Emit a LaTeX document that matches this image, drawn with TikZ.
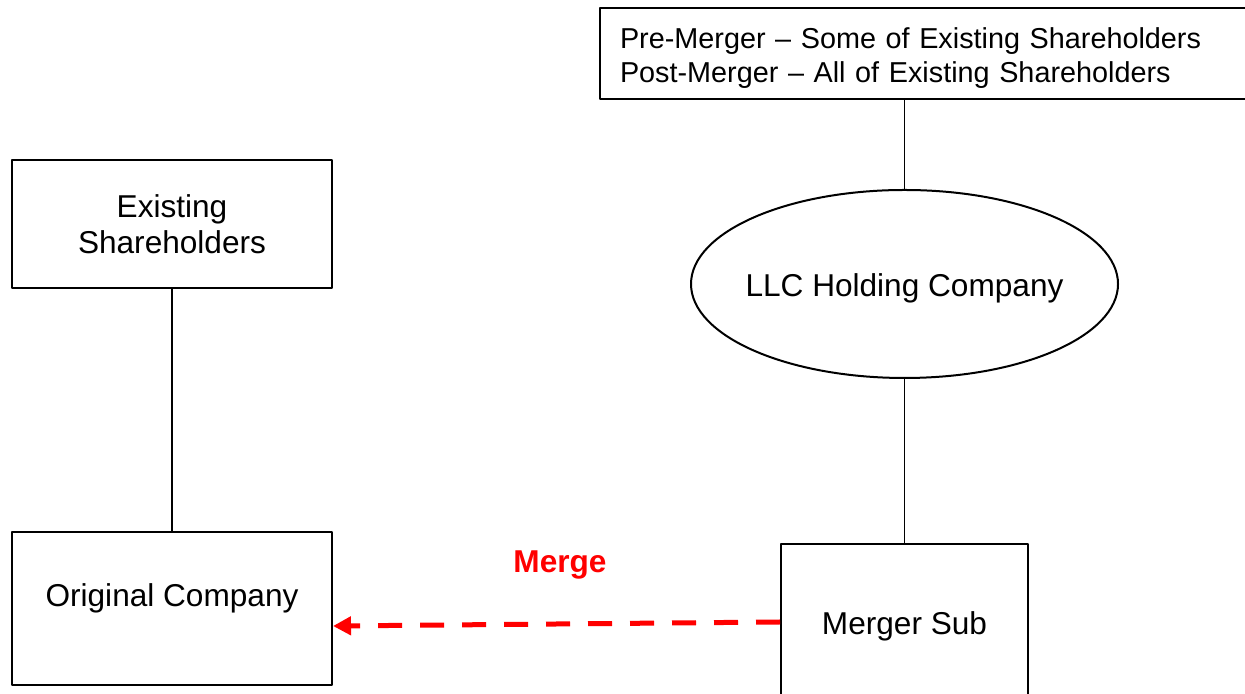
\documentclass[tikz,border=0pt]{standalone}
\usepackage{fontspec}
\setmainfont{Liberation Sans}
\usetikzlibrary{arrows.meta,shapes.geometric}
\definecolor{ffoooo}{rgb}{1,0,0}

\begin{document}
\begin{tikzpicture}[line cap=round,line join=round,x=0.5pt,y=0.5pt,
  box/.style={draw,line width=1pt,inner sep=0pt,font=\fontsize{15.8}{18}\selectfont},
  low/.style={text height=16pt,text depth=3pt},
  link/.style={line width=0.75pt}]
\useasboundingbox (0,0) rectangle (1245,694);
% left side
\node[box,minimum width=160pt,minimum height=64pt,align=center] (share) at (172,470) {Existing\\Shareholders};
\node[box,minimum width=160pt,minimum height=76.5pt,text height=11pt,text depth=12.5pt] (orig) at (172,85.5) {Original Company};
% right side
\node[box,minimum height=45.5pt,text width=320pt,inner xsep=10pt,align=left,font=\fontsize{14.4}{17}\selectfont] (owners) at (940,640.5) {\rule{0pt}{15.5pt}Pre-Merger – Some of Existing Shareholders\\Post-Merger – All of Existing Shareholders};
\node[box,low,ellipse,inner xsep=-4pt,minimum width=213.5pt,minimum height=94pt] (llc) at (904.5,410) {LLC Holding Company};
\node[box,low,minimum width=123.5pt,minimum height=78pt] (msub) at (904.5,72) {Merger Sub};
\draw[link] (share) -- (orig);
\draw[link] (owners.south -| llc.north) -- (llc.north);
\draw[link] (llc) -- (msub);
% the merger
\node[text=ffoooo,font=\fontsize{15.8}{18}\selectfont\bfseries] (merge) at (560,129) {Merge};
\draw[ffoooo,line width=2.5pt,line cap=butt,dash pattern=on 12pt off 9pt,-{Triangle[length=9pt,width=9pt]}] (msub.west) -- ([yshift=-2pt]orig.east |- msub.west);
\end{tikzpicture}
\end{document}
